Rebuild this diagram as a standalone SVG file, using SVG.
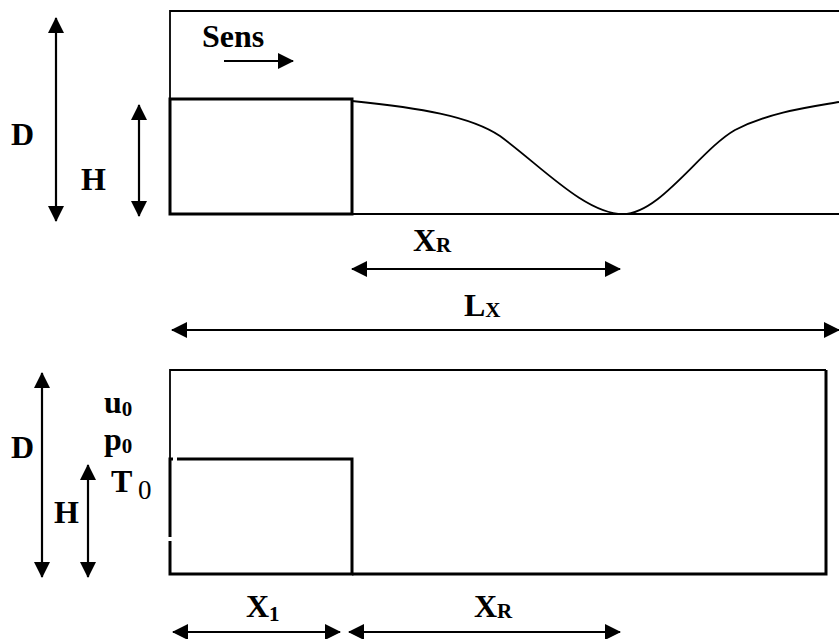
<svg xmlns="http://www.w3.org/2000/svg" width="839" height="639" viewBox="0 0 839 639">
<defs>
<marker id="ah" markerUnits="userSpaceOnUse" markerWidth="16" markerHeight="16" viewBox="0 0 16 16" refX="15" refY="8" orient="auto-start-reverse">
<path d="M0,0 L16,8 L0,16 Z" fill="#000"/>
</marker>
</defs>
<style>
.thin{fill:none;stroke:#000;stroke-width:1.8}
.thick{fill:none;stroke:#000;stroke-width:3}
.arr{fill:none;stroke:#000;stroke-width:2.2;marker-start:url(#ah);marker-end:url(#ah)}
.arr1{fill:none;stroke:#000;stroke-width:2.2;marker-end:url(#ah)}
.lb{font-family:"Liberation Serif","Times New Roman",serif;font-weight:bold;font-size:32px;fill:#000}
.sb{font-size:21px}
.rg{font-family:"Liberation Serif","Times New Roman",serif;font-weight:normal;font-size:27px;fill:#000}
</style>
<g id="top-channel">
<path class="thin" d="M839,11 L170,11 L170,99"/>
<path class="thin" d="M352,214 L839,214"/>
<rect class="thick" x="170" y="99" width="182" height="115"/>
<path class="thin" d="M352,101 C420,108 470,116 500,136 C540,165 585,214 623,214 C660,214 700,150 735,130 C770,112 810,107 839,102"/>
</g>
<g id="bottom-channel">
<path class="thin" d="M170,459 L170,370 L826,370"/>
<path class="thick" d="M826,370 L826,574 L352,574"/>
<path class="thick" d="M177,459 L352,459 L352,574 L170,574 L170,541"/>
<path class="thick" d="M170,537 L170,459 L173,459"/>
</g>
<g id="connectors">
<line class="arr" x1="56" y1="18" x2="56" y2="221"/>
<line class="arr" x1="139" y1="105" x2="139" y2="216"/>
<line class="arr1" x1="224" y1="61" x2="293" y2="61"/>
<line class="arr" x1="352" y1="269" x2="620" y2="269"/>
<line class="arr" x1="172" y1="330" x2="839" y2="330"/>
<line class="arr" x1="42" y1="373" x2="42" y2="577"/>
<line class="arr" x1="88" y1="465" x2="88" y2="577"/>
<line class="arr" x1="173" y1="632" x2="340" y2="632"/>
<line class="arr" x1="349" y1="632" x2="620" y2="632"/>
</g>
<g id="labels">
<text class="lb" x="202" y="47">Sens</text>
<text class="lb" x="11" y="145">D</text>
<text class="lb" x="81" y="190">H</text>
<text class="lb" x="413" y="251">X<tspan class="sb" dy="1">R</tspan></text>
<text class="lb" x="464" y="316">L<tspan class="sb" dy="1">X</tspan></text>
<text class="lb" x="11" y="458">D</text>
<text class="lb" x="54" y="523">H</text>
<text class="lb" x="104" y="413">u<tspan class="sb" dy="3">0</tspan></text>
<text class="lb" x="104" y="450">p<tspan class="sb" dy="3">0</tspan></text>
<text class="lb" x="111" y="492">T</text>
<text class="rg" x="138" y="499">0</text>
<text class="lb" x="246" y="617">X<tspan class="sb" dy="4">1</tspan></text>
<text class="lb" x="474" y="617">X<tspan class="sb" dy="1">R</tspan></text>
</g>
</svg>
